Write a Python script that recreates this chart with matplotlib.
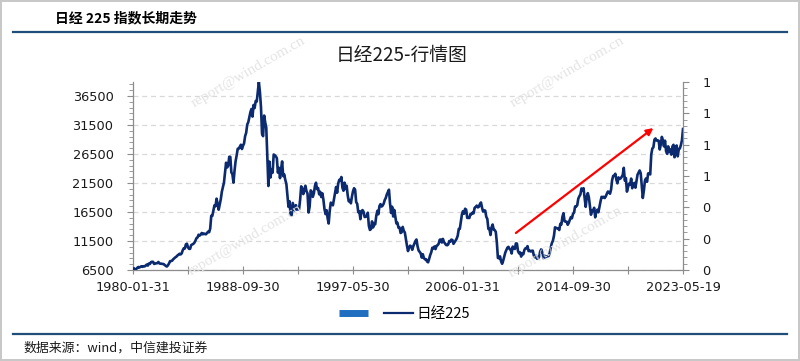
import numpy as np
import matplotlib
matplotlib.use("Agg")
import matplotlib.pyplot as plt
from matplotlib.lines import Line2D

plt.rcParams['font.family'] = ['Noto Sans CJK SC', 'DejaVu Sans']

# Nikkei 225 monthly closes, 1980-01 .. 2023-05-19
nikkei = [
    # 1980
    6720, 6790, 6500, 6650, 6870, 7020, 6930, 7050, 7150, 7050, 7160, 7116,
    # 1981
    7290, 7440, 7260, 7620, 7540, 7860, 7920, 7900, 7540, 7620, 7660, 7682,
    # 1982
    7880, 7630, 7580, 7590, 7540, 7520, 7350, 7200, 7100, 7300, 7610, 8017,
    # 1983
    8050, 8110, 8350, 8520, 8680, 8800, 9000, 9150, 9300, 9180, 9350, 9894,
    # 1984
    10250, 10200, 10930, 11030, 10400, 10150, 10150, 10800, 10900, 11000, 11200, 11543,
    # 1985
    11990, 12100, 12580, 12430, 12600, 12880, 12650, 12790, 12700, 12660, 12900, 13113,
    # 1986
    13020, 13640, 15860, 15830, 16700, 17650, 17500, 18800, 17900, 16900, 17850, 18701,
    # 1987
    20000, 20770, 21570, 23270, 25000, 24180, 24490, 26030, 26010, 23330, 23000, 21564,
    # 1988
    23620, 25260, 26260, 27400, 27420, 27770, 28100, 27360, 27920, 28330, 29580, 30159,
    # 1989
    31580, 31990, 32840, 33710, 34270, 32950, 34950, 34430, 35640, 35550, 37270, 38916,
    # 1990
    37190, 34590, 29980, 29580, 33130, 31940, 31040, 25980, 20980, 25190, 22450, 23849,
    # 1991
    23290, 26410, 26290, 26110, 25790, 23290, 24120, 22340, 23920, 25220, 22690, 22984,
    # 1992
    22020, 21340, 19350, 17390, 18350, 15950, 15910, 18060, 17400, 16770, 17680, 16925,
    # 1993
    17020, 16950, 18590, 20920, 20550, 19590, 20380, 21030, 20100, 19700, 16410, 17417,
    # 1994
    20230, 19990, 19110, 19720, 20970, 21550, 20450, 20630, 19560, 19990, 19080, 19723,
    # 1995
    18650, 17050, 16140, 16810, 15440, 14520, 16680, 18120, 17910, 17650, 18740, 19868,
    # 1996
    20810, 19830, 21410, 22040, 21960, 22530, 20690, 20170, 21560, 20470, 21020, 19361,
    # 1997
    18330, 18560, 18000, 19150, 20070, 20600, 20330, 18230, 17890, 16460, 16630, 15259,
    # 1998
    16630, 16830, 16530, 15640, 15670, 15830, 16380, 14110, 13410, 13560, 14880, 13842,
    # 1999
    14500, 14370, 15840, 16700, 16110, 17530, 17860, 17440, 17600, 17940, 18560, 18934,
    # 2000
    19540, 19960, 20340, 17970, 16330, 17410, 15730, 16860, 15750, 14540, 14650, 13786,
    # 2001
    13840, 12880, 12999, 13930, 13260, 12970, 11860, 10710, 9770, 10370, 10700, 10543,
    # 2002
    9990, 10590, 11020, 11490, 11760, 10620, 9880, 9620, 9380, 8640, 9220, 8579,
    # 2003
    8340, 8360, 7970, 7830, 8420, 9080, 9560, 10340, 10220, 10560, 10100, 10677,
    # 2004
    10780, 11040, 11720, 11760, 11240, 11860, 11330, 11080, 10820, 10770, 10900, 11489,
    # 2005
    11390, 11740, 11670, 11010, 11280, 11580, 11900, 12410, 13570, 13610, 14870, 16111,
    # 2006
    16650, 16210, 17060, 16910, 15470, 15510, 15460, 16140, 16130, 16400, 16270, 17226,
    # 2007
    17380, 17600, 17290, 17400, 17880, 18140, 17250, 16570, 16790, 16740, 15680, 15308,
    # 2008
    13590, 13600, 12530, 13850, 14340, 13480, 13380, 13070, 11260, 8580, 8510, 8860,
    # 2009
    7990, 7570, 8110, 8830, 9520, 9960, 10360, 10490, 10130, 10030, 9350, 10546,
    # 2010
    10200, 10130, 11090, 11060, 9770, 9380, 9540, 8820, 9370, 9200, 9940, 10229,
    # 2011
    10240, 10620, 9760, 9850, 9690, 9820, 9830, 8960, 8700, 8990, 8430, 8455,
    # 2012
    8800, 9720, 10080, 9520, 8540, 9010, 8700, 8840, 8870, 8930, 9450, 10395,
    # 2013
    11140, 11560, 12400, 13860, 13770, 13680, 13670, 13390, 14460, 14330, 15660, 16291,
    # 2014
    14910, 14840, 14830, 14300, 14630, 15160, 15620, 15420, 16170, 16410, 17460, 17451,
    # 2015
    17670, 18800, 19210, 19520, 20560, 20240, 20590, 18890, 17390, 19080, 19750, 19034,
    # 2016
    17520, 16030, 16760, 16670, 17230, 15580, 16570, 16890, 16450, 17430, 18310, 19114,
    # 2017
    19040, 19120, 18910, 19200, 19650, 20030, 19930, 19650, 20360, 22010, 22720, 22765,
    # 2018
    23100, 22070, 21450, 22470, 22200, 22300, 22550, 22870, 24120, 21920, 22350, 20015,
    # 2019
    20770, 21390, 21210, 22260, 20600, 21280, 21520, 20700, 21760, 22930, 23290, 23657,
    # 2020
    23210, 21140, 18920, 20190, 21880, 22290, 21710, 23140, 23190, 22980, 26430, 27444,
    # 2021
    27660, 28970, 29180, 28810, 28860, 28790, 27280, 28090, 29450, 28890, 27820, 28792,
    # 2022
    27000, 26530, 27820, 26850, 27280, 26390, 27800, 28090, 25940, 27590, 27970, 26095,
    # 2023
    27330, 27450, 28040, 28860, 30808,
]

x_labels = ['1980-01-31', '1988-09-30', '1997-05-30', '2006-01-31', '2014-09-30', '2023-05-19']
left_ticks = [6500, 11500, 16500, 21500, 26500, 31500, 36500]
right_ticks = [0, 0.2, 0.4, 0.6, 0.8, 1.0, 1.2]
series_name = '日经225'
arrow_from = (362, 12880)   # (month index, value)
arrow_to = (492, 30980)

W, H = 800, 361
fig = plt.figure(figsize=(W / 100, H / 100), dpi=100)
fig.patch.set_facecolor('white')
fig.patch.set_edgecolor('#C8C8C8')
fig.patch.set_linewidth(1.5)

ax = fig.add_axes([133 / W, 1 - 270 / H, 550 / W, 188 / H])
x = np.arange(len(nikkei))
line_color = '#0B2A6F'
ax.plot(x, nikkei, color=line_color, lw=1.9, zorder=3)

n = len(nikkei) - 1
ax.set_xlim(0, n)
ax.set_ylim(6500, 38916)

# x ticks every 52 months, labels every other one
xt = np.linspace(0, n, 11)
ax.set_xticks(xt)
lbls = []
for i in range(11):
    lbls.append(x_labels[i // 2] if i % 2 == 0 else '')
ax.set_xticklabels(lbls)

ax.set_yticks(left_ticks)
ax.set_yticklabels([str(v) for v in left_ticks])
ax.set_yticks(np.arange(6500, 38917, 1000), minor=True)

ax.grid(axis='y', which='major', color='#D9D9D9', linestyle=(0, (4, 3)), lw=0.9)
ax.set_axisbelow(True)

spine_c = '#8C8C8C'
for s in ['left', 'bottom', 'right']:
    ax.spines[s].set_color(spine_c)
    ax.spines[s].set_linewidth(0.9)
ax.spines['top'].set_visible(False)
ax.spines['right'].set_visible(False)

ax.tick_params(axis='x', which='major', direction='inout', length=6, color=spine_c,
               labelsize=9.3, pad=5, labelcolor='#1A1A1A')
ax.tick_params(axis='y', which='major', direction='out', length=4, color=spine_c,
               labelsize=9.3, pad=10, labelcolor='#1A1A1A')
ax.tick_params(axis='y', which='minor', direction='out', length=3, color=spine_c)
for t in ax.get_xticklabels() + ax.get_yticklabels():
    t.set_family('DejaVu Sans')

ax2 = ax.twinx()
ax2.set_ylim(0, 1.2)
ax2.set_yticks(right_ticks)
ax2.set_yticklabels(['%.0f' % v for v in right_ticks])
ax2.set_yticks(np.arange(0, 1.2001, 0.04), minor=True)
for s in ['left', 'bottom', 'top']:
    ax2.spines[s].set_visible(False)
ax2.spines['right'].set_color(spine_c)
ax2.spines['right'].set_linewidth(0.9)
ax2.tick_params(axis='y', which='major', direction='out', length=4, color=spine_c,
                labelsize=9.3, pad=10, labelcolor='#1A1A1A')
ax2.tick_params(axis='y', which='minor', direction='out', length=3, color=spine_c)
for t in ax2.get_yticklabels():
    t.set_family('DejaVu Sans')

# red trend arrow
ax.annotate('', xy=arrow_to, xytext=arrow_from, xycoords='data',
            arrowprops=dict(arrowstyle='-|>', color='#FF0000', lw=1.6,
                            mutation_scale=10, shrinkA=0, shrinkB=0), zorder=4)

# watermarks
for (wx, wy) in [(248, 72), (245, 240), (567, 72), (565, 242)]:
    fig.text(wx / W, 1 - wy / H, 'report@wind.com.cn', rotation=30, ha='center', va='center',
             fontsize=11, color='#E4E4E4', family='Liberation Serif', zorder=0)

# titles
fig.text(55 / W, 1 - 18 / H, '日经 225 指数长期走势', fontsize=10, fontweight='bold',
         ha='left', va='center', color='#000000')
fig.text(402 / W, 1 - 55 / H, '日经225-行情图', fontsize=13.5, ha='center', va='center',
         color='#1A1A1A')
fig.text(23 / W, 1 - 348 / H, '数据来源：wind，中信建投证券', fontsize=9.3, ha='left',
         va='center', color='#1A1A1A', style='italic')

# header / footer rules
fig.add_artist(Line2D([13 / W, 787 / W], [1 - 32 / H, 1 - 32 / H], color='#1F4E79', lw=1.6))
fig.add_artist(Line2D([13 / W, 787 / W], [1 - 334 / H, 1 - 334 / H], color='#1F4E79', lw=1.6))

# legend
h_bar = Line2D([], [], color='#1F6EC0', lw=5, solid_capstyle='butt')
h_line = Line2D([], [], color=line_color, lw=1.6)
fig.legend([h_bar, h_line], ['', series_name], loc='center', bbox_to_anchor=(0.505, 1 - 314 / H),
           ncol=2, frameon=False, fontsize=10.5, handlelength=2.0, handletextpad=0.2,
           columnspacing=0.9)

fig.savefig('out.png', dpi=100, facecolor=fig.get_facecolor(), edgecolor=fig.get_edgecolor())
